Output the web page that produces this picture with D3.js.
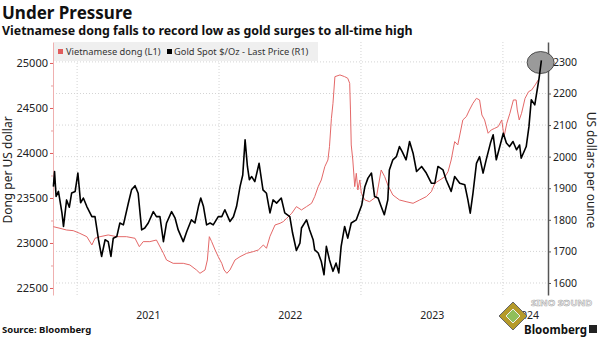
<!DOCTYPE html>
<html><head><meta charset="utf-8">
<script src="https://cdn.jsdelivr.net/npm/d3@7"></script>
<style>
body{margin:0;background:#fff;}
svg{display:block;}
text{font-family:"Noto Sans","Liberation Sans",sans-serif;}
</style></head>
<body><svg id="c" width="600" height="337"></svg>
<script>
const title = "Under Pressure";
const subtitle = "Vietnamese dong falls to record low as gold surges to all-time high";
const seriesNames = ["Vietnamese dong (L1)", "Gold Spot $/Oz - Last Price (R1)"];
const leftTicks = [22500, 23000, 23500, 24000, 24500, 25000];
const leftMinorTicks = [22750, 23250, 23750, 24250, 24750];
const rightTicks = [1600, 1700, 1800, 1900, 2000, 2100, 2200, 2300];
const yearStarts = ["2021-01-01", "2022-01-01", "2023-01-01", "2024-01-01"];
const yearLabelDates = ["2021-07-02", "2022-07-02", "2023-07-02", "2024-03-02"];
const yearLabels = ["2021", "2022", "2023", "2024"];
const xDomain = ["2020-10-31", "2024-04-26"];

const dongSeries = [
["2020-11-01",23181],["2020-11-18",23163],["2020-12-05",23144],["2020-12-22",23137],
["2021-01-08",23107],["2021-01-26",23070],["2021-02-08",22978],["2021-02-16",23052],
["2021-03-01",23070],["2021-03-22",23089],["2021-04-13",23070],["2021-05-08",23070],
["2021-05-30",23052],["2021-06-10",22959],["2021-06-20",23015],["2021-07-07",23015],
["2021-07-24",23033],["2021-08-11",22885],["2021-08-19",22811],["2021-09-05",22774],
["2021-10-01",22774],["2021-10-18",22756],["2021-11-04",22700],["2021-11-13",22663],
["2021-11-26",22700],["2021-12-02",22811],["2021-12-07",23070],["2021-12-13",23015],
["2021-12-22",22922],["2021-12-30",22848],["2022-01-08",22774],["2022-01-14",22700],
["2022-01-21",22663],["2022-01-29",22700],["2022-02-11",22811],["2022-02-24",22848],
["2022-03-13",22885],["2022-03-30",22904],["2022-04-12",22922],["2022-04-25",22978],
["2022-05-03",22941],["2022-05-12",23074],["2022-05-25",23200],["2022-06-07",23219],
["2022-06-15",23237],["2022-06-24",23274],["2022-07-07",23330],["2022-07-19",23404],
["2022-08-01",23367],["2022-08-14",23404],["2022-08-27",23441],["2022-09-04",23515],
["2022-09-13",23626],["2022-09-21",23700],["2022-09-30",23848],["2022-10-08",23922],
["2022-10-12",24070],["2022-10-17",24385],["2022-10-21",24552],["2022-10-26",24848],
["2022-11-08",24867],["2022-11-20",24848],["2022-11-28",24830],["2022-12-03",24774],
["2022-12-05",24478],["2022-12-07",24089],["2022-12-11",23922],["2022-12-16",23626],
["2022-12-20",23774],["2022-12-24",23589],["2022-12-29",23700],["2023-01-02",23552],
["2023-01-11",23478],["2023-01-23",23459],["2023-02-10",23515],["2023-02-22",23811],
["2023-03-03",23737],["2023-03-11",23644],["2023-03-24",23533],["2023-04-10",23478],
["2023-04-27",23459],["2023-05-15",23441],["2023-06-01",23478],["2023-06-18",23515],
["2023-07-01",23570],["2023-07-10",23663],["2023-07-23",23700],["2023-08-05",23737],
["2023-08-13",23793],["2023-08-21",23922],["2023-08-30",24126],["2023-09-07",24089],
["2023-09-20",24367],["2023-09-29",24404],["2023-10-07",24478],["2023-10-16",24552],
["2023-10-25",24607],["2023-11-02",24589],["2023-11-08",24422],["2023-11-15",24367],
["2023-11-24",24219],["2023-12-02",24256],["2023-12-11",24274],["2023-12-20",24293],
["2023-12-29",24367],["2024-01-04",24181],["2024-01-11",24330],["2024-01-19",24441],
["2024-01-28",24589],["2024-02-04",24589],["2024-02-07",24478],["2024-02-12",24367],
["2024-02-18",24441],["2024-02-27",24607],["2024-03-07",24681],["2024-03-15",24700],
["2024-03-24",24756],["2024-04-01",24811]
];

const goldSeries = [
["2020-11-01",1905],["2020-11-04",1953],["2020-11-08",1874],["2020-11-14",1890],
["2020-11-23",1822],["2020-11-27",1779],["2020-12-05",1863],["2020-12-12",1840],
["2020-12-18",1885],["2020-12-27",1890],["2021-01-03",1948],["2021-01-10",1854],
["2021-01-17",1869],["2021-01-26",1842],["2021-02-08",1810],["2021-02-16",1810],
["2021-02-25",1737],["2021-03-05",1684],["2021-03-14",1737],["2021-03-22",1731],
["2021-03-29",1684],["2021-04-04",1742],["2021-04-13",1747],["2021-04-21",1790],
["2021-04-30",1784],["2021-05-13",1854],["2021-05-21",1895],["2021-05-30",1908],
["2021-06-07",1884],["2021-06-16",1768],["2021-06-24",1774],["2021-07-03",1790],
["2021-07-16",1826],["2021-07-24",1810],["2021-08-02",1810],["2021-08-11",1731],
["2021-08-19",1790],["2021-09-01",1826],["2021-09-10",1805],["2021-09-18",1768],
["2021-10-01",1731],["2021-10-10",1763],["2021-10-22",1800],["2021-10-31",1790],
["2021-11-09",1842],["2021-11-15",1869],["2021-11-22",1842],["2021-11-30",1784],
["2021-12-09",1790],["2021-12-17",1784],["2021-12-30",1810],["2022-01-08",1810],
["2022-01-16",1832],["2022-01-29",1795],["2022-02-07",1810],["2022-02-15",1842],
["2022-02-24",1905],["2022-03-03",1942],["2022-03-09",2053],["2022-03-15",1969],
["2022-03-20",1927],["2022-03-26",1937],["2022-04-03",1921],["2022-04-14",1979],
["2022-04-24",1895],["2022-05-03",1884],["2022-05-12",1822],["2022-05-20",1863],
["2022-05-29",1853],["2022-06-10",1869],["2022-06-19",1822],["2022-07-02",1810],
["2022-07-09",1759],["2022-07-19",1703],["2022-07-28",1726],["2022-08-01",1774],
["2022-08-14",1800],["2022-08-22",1768],["2022-08-31",1737],["2022-09-04",1705],
["2022-09-13",1695],["2022-09-21",1668],["2022-09-28",1626],["2022-10-04",1716],
["2022-10-12",1673],["2022-10-21",1637],["2022-10-29",1663],["2022-11-05",1632],
["2022-11-11",1716],["2022-11-20",1779],["2022-11-28",1742],["2022-12-07",1790],
["2022-12-20",1800],["2023-01-03",1847],["2023-01-11",1905],["2023-01-19",1932],
["2023-01-28",1948],["2023-02-05",1874],["2023-02-14",1869],["2023-02-22",1842],
["2023-03-02",1816],["2023-03-11",1863],["2023-03-15",1958],["2023-03-24",1990],
["2023-04-02",2000],["2023-04-10",2032],["2023-04-17",2016],["2023-04-27",1990],
["2023-05-06",2048],["2023-05-15",2011],["2023-05-24",1953],["2023-06-06",1969],
["2023-06-18",1948],["2023-07-01",1916],["2023-07-10",1916],["2023-07-18",1969],
["2023-07-31",1958],["2023-08-08",1927],["2023-08-21",1890],["2023-08-30",1937],
["2023-09-12",1916],["2023-09-25",1911],["2023-10-03",1863],["2023-10-09",1821],
["2023-10-16",1884],["2023-10-25",1979],["2023-11-02",2000],["2023-11-11",1948],
["2023-11-19",1990],["2023-11-30",2043],["2023-12-07",2069],["2023-12-15",1990],
["2023-12-24",2032],["2024-01-02",2074],["2024-01-10",2043],["2024-01-18",2032],
["2024-01-27",2048],["2024-02-05",2022],["2024-02-13",2037],["2024-02-17",1995],
["2024-03-01",2032],["2024-03-08",2095],["2024-03-14",2180],["2024-03-23",2164],
["2024-03-27",2195],["2024-04-03",2248],["2024-04-09",2305]
];
const highlightPoint = ["2024-04-07", 2298];

const parse = d3.timeParse("%Y-%m-%d");
const svg = d3.select("#c");

const x = d3.scaleTime().domain(xDomain.map(parse)).range([53, 548]);
const yL = d3.scaleLinear().domain([22422, 25233]).range([295, 42]);
const yR = d3.scaleLinear().domain([1562, 2363]).range([295, 42]);

// titles
svg.append("text").attr("x", 2).attr("y", 19).attr("font-family", "Liberation Sans")
  .attr("font-weight", "bold").attr("font-size", 17).attr("fill", "#111").text(title);
svg.append("text").attr("x", 2).attr("y", 35).attr("font-family", "Liberation Sans")
  .attr("font-weight", "bold").attr("font-size", 12.4).attr("fill", "#111").text(subtitle);

// grid
const grid = svg.append("g");
grid.selectAll(".hg").data(rightTicks).join("line")
  .attr("x1", 53).attr("x2", 548).attr("y1", d => yR(d)).attr("y2", d => yR(d))
  .attr("stroke", "#d4d4d4").attr("stroke-width", 1).attr("stroke-dasharray", "1,2");
grid.selectAll(".vg").data(yearStarts).join("line")
  .attr("x1", d => x(parse(d))).attr("x2", d => x(parse(d))).attr("y1", 42).attr("y2", 295)
  .attr("stroke", "#d4d4d4").attr("stroke-width", 1).attr("stroke-dasharray", "1,2");

// legend
svg.append("rect").attr("x", 54).attr("y", 42).attr("width", 264).attr("height", 19).attr("fill", "#efefef");
const lg = svg.append("g").attr("font-size", 9.3).attr("fill", "#333");
lg.append("rect").attr("x", 58).attr("y", 49).attr("width", 5).attr("height", 5).attr("fill", "#e05c5c");
lg.append("text").attr("x", 66).attr("y", 55).text(seriesNames[0]);
lg.append("rect").attr("x", 167).attr("y", 49).attr("width", 5).attr("height", 5).attr("fill", "#000");
lg.append("text").attr("x", 174).attr("y", 55).text(seriesNames[1]);

// axes
const axL = svg.append("g").attr("transform", "translate(53,0)")
  .call(d3.axisLeft(yL).tickValues(leftTicks).tickSize(3).tickSizeOuter(0).tickPadding(2).tickFormat(d3.format("d")));
axL.select(".domain").attr("stroke", "#efb0b0").attr("stroke-width", 1);
axL.selectAll(".tick line").attr("stroke", "#e05c5c");
axL.selectAll(".tick text").attr("font-size", 11).attr("fill", "#222").attr("font-family", "Noto Sans");
const axLm = svg.append("g").attr("transform", "translate(53,0)")
  .call(d3.axisLeft(yL).tickValues(leftMinorTicks).tickSize(2).tickFormat(""));
axLm.select(".domain").remove();
axLm.selectAll(".tick line").attr("stroke", "#e9a0a0");

const axR = svg.append("g").attr("transform", "translate(548,0)")
  .call(d3.axisRight(yR).tickValues(rightTicks).tickSize(3).tickSizeOuter(0).tickPadding(2).tickFormat(d3.format("d")));
axR.select(".domain").attr("stroke", "#555").attr("stroke-width", 1.5);
axR.selectAll(".tick line").attr("stroke", "#555");
axR.selectAll(".tick text").attr("font-size", 10.5).attr("fill", "#222").attr("font-family", "Noto Sans");

const axX = svg.append("g").attr("transform", "translate(0,310)")
  .call(d3.axisBottom(x).tickValues(yearLabelDates.map(parse)).tickSize(0).tickPadding(2)
    .tickFormat((d, i) => yearLabels[i]));
axX.select(".domain").remove();
axX.selectAll(".tick text").attr("font-size", 10.5).attr("fill", "#222").attr("font-family", "Noto Sans");

// axis titles
svg.append("text").attr("transform", "translate(12,170) rotate(-90)").attr("text-anchor", "middle")
  .attr("font-size", 12).attr("fill", "#222").text("Dong per US dollar");
svg.append("text").attr("transform", "translate(587,170) rotate(90)").attr("text-anchor", "middle")
  .attr("font-size", 12).attr("fill", "#222").text("US dollars per ounce");

// lines
const dongLine = d3.line().x(d => x(parse(d[0]))).y(d => yL(d[1]));
const goldLine = d3.line().x(d => x(parse(d[0]))).y(d => yR(d[1]));
svg.append("path").datum(dongSeries).attr("d", dongLine).attr("fill", "none")
  .attr("stroke", "#e46868").attr("stroke-width", 1).attr("stroke-linejoin", "round");

svg.append("ellipse").attr("cx", x(parse(highlightPoint[0]))).attr("cy", yR(highlightPoint[1]))
  .attr("rx", 13.5).attr("ry", 11).attr("fill", "#9a9a9a").attr("stroke", "#333").attr("stroke-width", 0.8);

svg.append("path").datum(goldSeries).attr("d", goldLine).attr("fill", "none")
  .attr("stroke", "#000").attr("stroke-width", 1.6).attr("stroke-linejoin", "round");

// footer
svg.append("text").attr("x", 2).attr("y", 333).attr("font-family", "Liberation Sans")
  .attr("font-weight", "bold").attr("font-size", 9.5).attr("fill", "#111").text("Source: Bloomberg");

// watermark
const wm = svg.append("g");
wm.append("path").attr("d", "M513,302 L527,316 L513,330 L499,316 Z").attr("fill", "#b59a2a").attr("stroke", "#666").attr("stroke-width", 1);
wm.append("path").attr("d", "M513,309 L520,316 L513,323 L506,316 Z").attr("fill", "#8fbf5a").attr("stroke", "#eee").attr("stroke-width", 1);
wm.append("text").attr("x", 531).attr("y", 306).attr("font-family", "Liberation Sans").attr("font-weight", "bold")
  .attr("font-size", 9.5).attr("fill", "#fff").attr("stroke", "#aaa").attr("stroke-width", 0.6).text("SINO SOUND");
svg.append("text").attr("x", 524).attr("y", 334).attr("font-family", "Liberation Sans")
  .attr("font-weight", "bold").attr("font-size", 11.5).attr("fill", "#111").text("Bloomberg");
svg.append("rect").attr("x", 589).attr("y", 325).attr("width", 8).attr("height", 8).attr("fill", "#222");
</script></body></html>
